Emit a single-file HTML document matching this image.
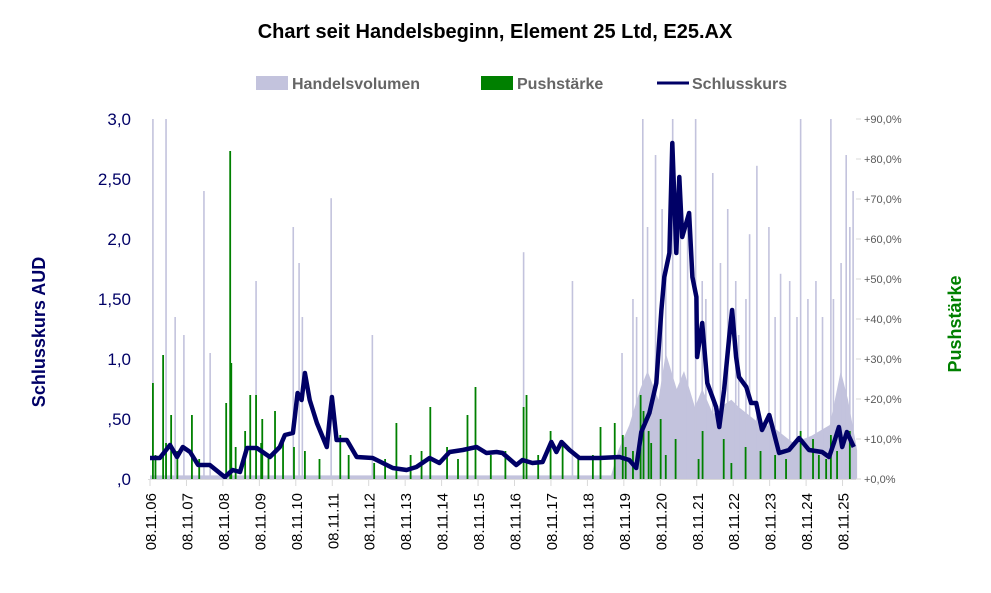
<!DOCTYPE html>
<html><head><meta charset="utf-8"><style>
body{margin:0;background:#fff;width:991px;height:588px;overflow:hidden;font-family:"Liberation Sans",sans-serif}
svg text{font-family:"Liberation Sans",sans-serif}
</style></head><body>
<svg id="c" width="991" height="588">
<text x="495" y="38" text-anchor="middle" font-size="20" font-weight="bold" fill="#000">Chart seit Handelsbeginn, Element 25 Ltd,  E25.AX</text>
<g>
<rect x="256" y="76" width="32" height="14" fill="#c3c3dd"/>
<text x="292" y="89" font-size="16" font-weight="bold" fill="#666">Handelsvolumen</text>
<rect x="481" y="76" width="32" height="14" fill="#008000"/>
<text x="517" y="89" font-size="16" font-weight="bold" fill="#666">Pushstärke</text>
<line x1="657" y1="83" x2="689" y2="83" stroke="#000066" stroke-width="3"/>
<text x="692" y="89" font-size="16" font-weight="bold" fill="#666">Schlusskurs</text>
</g>
<text transform="translate(45,332) rotate(-90)" text-anchor="middle" font-size="18" font-weight="bold" fill="#000066">Schlusskurs AUD</text>
<text transform="translate(961,324) rotate(-90)" text-anchor="middle" font-size="18" font-weight="bold" fill="#008000">Pushstärke</text>
<g id="g"></g>
</svg>
<script>
const xTickLabels=['08.11.06','08.11.07','08.11.08','08.11.09','08.11.10','08.11.11','08.11.12','08.11.13','08.11.14','08.11.15','08.11.16','08.11.17','08.11.18','08.11.19','08.11.20','08.11.21','08.11.22','08.11.23','08.11.24','08.11.25'];
const leftTicks=[0,0.5,1,1.5,2,2.5,3];
const leftTickLabels=[',0',',50','1,0','1,50','2,0','2,50','3,0'];
const rightTicks=[0,10,20,30,40,50,60,70,80,90];
const priceDates=[6.85,7.12,7.40,7.59,7.75,7.95,8.17,8.49,8.90,9.12,9.32,9.51,9.78,10.14,10.41,10.55,10.77,10.90,11.01,11.10,11.23,11.43,11.70,11.84,11.97,12.25,12.52,12.96,13.51,13.89,14.16,14.52,14.79,15.07,15.43,15.81,16.08,16.36,16.52,16.90,17.07,17.34,17.62,17.86,18.00,18.14,18.36,18.63,19.18,19.73,20.00,20.19,20.33,20.55,20.74,20.88,20.96,21.10,21.18,21.29,21.37,21.45,21.64,21.73,21.84,21.86,22.00,22.14,22.38,22.47,22.60,22.74,22.82,22.93,23.01,23.21,23.34,23.48,23.64,23.84,24.11,24.38,24.66,24.93,25.29,25.48,25.62,25.75,25.84,25.97,26.16];
const priceValues=[0.175,0.175,0.283,0.183,0.267,0.225,0.117,0.117,0.017,0.075,0.058,0.258,0.258,0.183,0.267,0.367,0.383,0.717,0.658,0.883,0.658,0.467,0.267,0.683,0.325,0.325,0.183,0.175,0.092,0.075,0.1,0.175,0.133,0.225,0.242,0.267,0.217,0.225,0.217,0.117,0.158,0.133,0.142,0.308,0.225,0.308,0.242,0.175,0.175,0.183,0.158,0.092,0.392,0.55,0.8,1.408,1.683,1.883,2.8,1.883,2.517,2.017,2.217,1.683,1.517,1.017,1.3,0.8,0.6,0.433,0.742,1.183,1.408,1.017,0.85,0.767,0.633,0.633,0.408,0.533,0.217,0.242,0.342,0.242,0.225,0.183,0.308,0.433,0.267,0.392,0.267];
const volSpikeDates=[6.93,7.29,7.54,7.78,8.33,8.50,9.76,10.78,10.94,11.03,11.82,12.95,17.10,18.44,20.37,20.72,21.19,21.82,22.29,22.92,23.50,23.83,24.15,24.70,25.12,25.53,25.81,26.14,20.1,20.5,20.9,21.4,21.6,22.0,22.5,22.7,23.2,23.3,24.0,24.4,24.9,25.3,25.95,26.05,19.8,20.2,21.0,22.1,23.0,24.6,25.6];
const volSpikeValues=[1.0,1.0,0.45,0.4,0.8,0.35,0.55,0.7,0.6,0.45,0.78,0.4,0.63,0.55,1.0,0.9,1.0,1.0,0.85,0.55,0.87,0.7,0.57,1.0,0.55,1.0,0.6,0.8,0.5,0.7,0.75,0.8,0.7,0.55,0.6,0.75,0.5,0.68,0.45,0.55,0.5,0.45,0.9,0.7,0.35,0.45,0.6,0.5,0.4,0.45,0.5];
const volBaseDates=[6.85,19.5,19.7,20.0,20.3,20.5,20.8,21.0,21.3,21.5,21.8,22.0,22.3,22.5,22.8,23.0,23.5,24.0,24.5,25.0,25.5,25.8,26.0,26.25];
const volBaseValues=[0.01,0.01,0.08,0.15,0.25,0.3,0.22,0.35,0.25,0.3,0.2,0.25,0.18,0.2,0.22,0.2,0.16,0.14,0.1,0.12,0.15,0.3,0.22,0.08];
const pushDates=[6.93,7.21,7.29,7.43,8.00,8.94,9.05,9.08,9.46,9.60,9.76,9.93,10.28,12.07,13.61,14.54,15.56,15.78,17.10,17.18,17.84,18.17,19.21,19.82,20.31,20.39,20.53,20.86,21.27,22.01,22.59,23.19,24.70,25.04,25.53,26.05,7.0,7.6,8.2,9.2,9.9,10.1,10.5,10.8,11.1,11.5,12.3,13.0,13.3,14.0,14.3,15.0,15.3,16.2,16.6,17.5,18.6,19.0,19.6,19.9,20.1,20.6,21.0,21.9,22.8,23.6,24.0,24.3,25.2,25.4,25.7];
const pushValues=[24,31,9,16,16,19,82,29,12,21,21,15,17,11,14,18,16,23,18,21,12,9,13,11,21,17,12,15,10,12,10,8,12,10,11,12,6,7,5,8,9,6,9,8,7,5,6,4,5,6,7,8,5,6,7,6,5,6,14,8,7,9,6,5,4,7,6,5,6,5,7];
const X0=150,PX=36.45,Y0=479;
function xs(d){return X0+(d-6.85)*PX}
function yl(v){return Y0-v*120}
function yr(p){return Y0-p*4}
function yv(f){return Y0-f*360}
const g=document.getElementById('g');const NS='http://www.w3.org/2000/svg';
function mk(t,a){const e=document.createElementNS(NS,t);for(const k in a)e.setAttribute(k,a[k]);g.appendChild(e);return e}
let pts=[xs(volBaseDates[0])+','+Y0];
volBaseDates.forEach((d,i)=>pts.push(xs(d)+','+yv(volBaseValues[i])));
pts.push(xs(volBaseDates[volBaseDates.length-1])+','+Y0);
let a=mk('polygon',{points:pts.join(' '),fill:'#c3c3dd'});


volSpikeDates.forEach((d,i)=>{const r=mk('rect',{x:xs(d)-0.8,y:yv(volSpikeValues[i]),width:1.6,height:volSpikeValues[i]*360,fill:'#c3c3dd'});

});
pushDates.forEach((d,i)=>{const r=mk('rect',{x:xs(d)-0.9,y:yr(pushValues[i]),width:1.8,height:pushValues[i]*4,fill:'#008000'});

});
let lp=priceDates.map((d,i)=>xs(d).toFixed(1)+','+yl(priceValues[i]).toFixed(1)).join(' ');
let pl=mk('polyline',{points:lp,fill:'none',stroke:'#000066','stroke-width':4.5,'stroke-linejoin':'round'});


let ax=mk('line',{x1:148,y1:479.5,x2:856,y2:479.5,stroke:'#d9d9d9'});


xTickLabels.forEach((l,i)=>{const x=xs(6.85+i);mk('line',{x1:x,y1:480,x2:x,y2:486,stroke:'#d9d9d9'});
const t=mk('text',{transform:`translate(${x+6},493) rotate(-90)`,'text-anchor':'end','font-size':15,fill:'#000'});t.textContent=l;

});
leftTicks.forEach((v,i)=>{const t=mk('text',{x:131,y:yl(v)+6,'text-anchor':'end','font-size':17,fill:'#000066'});t.textContent=leftTickLabels[i];

});
rightTicks.forEach(p=>{mk('line',{x1:856,y1:yr(p),x2:861,y2:yr(p),stroke:'#d9d9d9'});
const t=mk('text',{x:864,y:yr(p)+4,'font-size':11,fill:'#595959'});t.textContent='+'+p+',0%';

});
</script>
</body></html>
